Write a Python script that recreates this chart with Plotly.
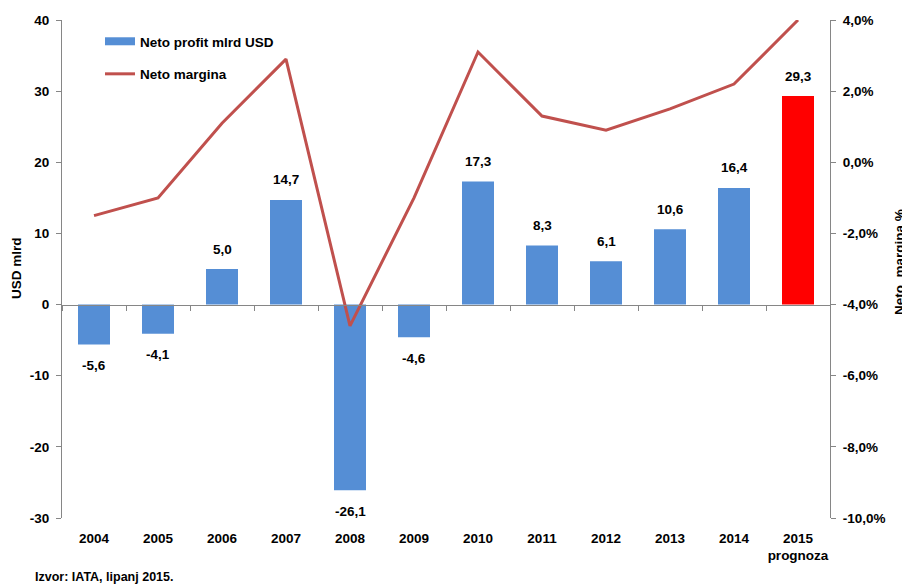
import plotly.graph_objects as go

years = ["2004", "2005", "2006", "2007", "2008", "2009", "2010", "2011", "2012", "2013", "2014", "2015"]
year_labels = ["2004", "2005", "2006", "2007", "2008", "2009", "2010", "2011", "2012", "2013", "2014", "2015<br>prognoza"]
profit = [-5.6, -4.1, 5.0, 14.7, -26.1, -4.6, 17.3, 8.3, 6.1, 10.6, 16.4, 29.3]
margin = [-1.5, -1.0, 1.1, 2.9, -4.6, -1.0, 3.1, 1.3, 0.9, 1.5, 2.2, 4.0]
left_ticks = [-30, -20, -10, 0, 10, 20, 30, 40]
right_ticks = [-10, -8, -6, -4, -2, 0, 2, 4]

FONT = "Liberation Sans, Arial, sans-serif"
FS = 13.5
BLUE = "#558ED5"

bar_colors = [BLUE] * (len(years) - 1) + ["#FF0000"]
bar_text = [f"{v:.1f}".replace(".", ",") for v in profit]

# page body has an 8px default margin: plot area in window px is x 62..830, y 20..518
OFF = 8
PL, PR, PT, PB = 62, 830, 20, 518
W, H = 910 - OFF, 585 - OFF

fig = go.Figure()
fig.add_trace(go.Bar(
    x=years, y=profit, name="Neto profit mlrd USD",
    marker=dict(color=bar_colors, line=dict(width=0)),
    width=0.5, showlegend=False, hoverinfo="skip",
))
# legend proxy for the bars (wide rectangle symbol)
fig.add_trace(go.Scatter(
    x=years, y=[None] * len(years), name="Neto profit mlrd USD", mode="lines",
    line=dict(color=BLUE, width=8), legendgroup="a", hoverinfo="skip",
))
fig.add_trace(go.Scatter(
    x=years, y=margin, name="Neto margina", yaxis="y2", mode="lines",
    line=dict(color="#C0504D", width=3), legendgroup="b", hoverinfo="skip",
))
# x axis line at zero with tick marks between categories
fig.add_trace(go.Scatter(x=years, y=[None] * len(years), xaxis="x2", showlegend=False, hoverinfo="skip"))

bold = dict(family=FONT, size=FS, color="black", weight="bold")


def px(x):
    return (x - PL) / (PR - PL)


def py(y):
    return (PB - y) / (PB - PT)


annotations = []
for i, (v, t) in enumerate(zip(profit, bar_text)):
    annotations.append(dict(x=i, y=v, xref="x", yref="y", text=t, showarrow=False,
                            yanchor="middle", yshift=20 if v >= 0 else -21, font=bold))
annotations.append(dict(text="Izvor: IATA, lipanj 2015.", xref="paper", yref="paper",
                        x=px(33), y=py(577), xanchor="left", yanchor="middle",
                        showarrow=False, font=dict(family=FONT, size=12.5, color="black", weight="bold")))
annotations.append(dict(text="USD mlrd", xref="paper", yref="paper", textangle=-90,
                        x=px(16), y=py(268), xanchor="center", yanchor="middle",
                        showarrow=False, font=bold))
annotations.append(dict(text="Neto  margina %", xref="paper", yref="paper", textangle=-90,
                        x=px(899), y=py(262), xanchor="center", yanchor="middle",
                        showarrow=False, font=bold))

xrange = [-0.5, len(years) - 0.5]

fig.update_layout(
    width=W, height=H,
    margin=dict(l=PL - OFF, r=W - (PR - OFF), t=PT - OFF, b=H - (PB - OFF), autoexpand=False),
    plot_bgcolor="white", paper_bgcolor="white",
    font=dict(family=FONT, size=FS, color="black"),
    showlegend=True,
    legend=dict(x=px(100), y=py(26), xanchor="left", yanchor="top",
                font=bold, bgcolor="rgba(0,0,0,0)", traceorder="grouped", tracegroupgap=12),
    xaxis=dict(type="category", categoryorder="array", categoryarray=years, range=xrange,
               tickvals=years, ticktext=year_labels, tickfont=bold, automargin=False,
               ticklabelstandoff=10,
               showline=False, ticks="", showgrid=False, zeroline=False),
    xaxis2=dict(type="category", categoryorder="array", categoryarray=years, range=xrange,
                overlaying="x", anchor="free", position=py(304.6),
                showline=True, linecolor="#868686", linewidth=1, automargin=False,
                ticks="outside", tickson="boundaries", ticklen=5, tickcolor="#868686",
                showticklabels=False, showgrid=False, zeroline=False),
    yaxis=dict(range=[-30, 40], tickvals=left_ticks, ticktext=[str(v) for v in left_ticks],
               tickfont=bold, showline=True, linecolor="#868686", linewidth=1, automargin=False,
               ticklabelstandoff=4,
               ticks="outside", ticklen=5, tickcolor="#868686", showgrid=False, zeroline=False),
    yaxis2=dict(range=[-10, 4], overlaying="y", side="right", tickvals=right_ticks,
                ticktext=[f"{v:.1f}%".replace(".", ",") for v in right_ticks], automargin=False,
                tickfont=bold, showline=True, linecolor="#868686", linewidth=1,
                ticklabelstandoff=4,
                ticks="outside", ticklen=5, tickcolor="#868686", showgrid=False, zeroline=False),
    annotations=annotations,
)

fig.write_html("out.html", post_script="document.body.style.overflow='hidden';")
